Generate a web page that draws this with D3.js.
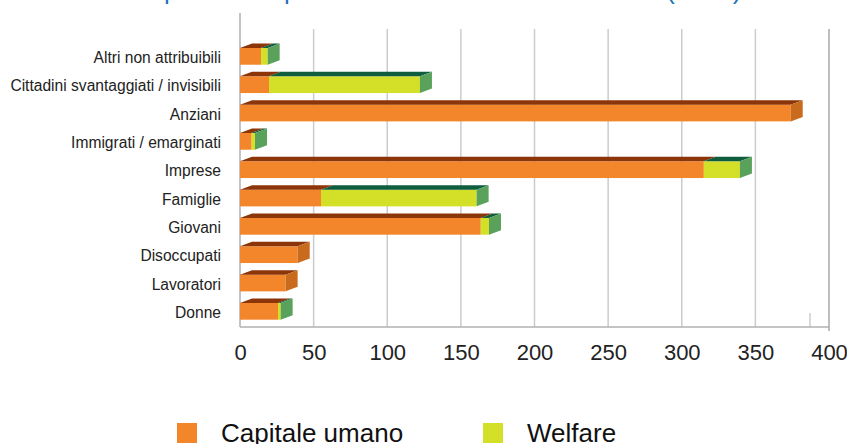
<!DOCTYPE html>
<html><head><meta charset="utf-8">
<script src="https://cdn.jsdelivr.net/npm/d3@7"></script>
<style>html,body{margin:0;padding:0;background:#fff;overflow:hidden}svg{display:block}</style>
</head><body>
<svg id="c" width="847" height="444"></svg>
<script>
const title = "Ripartizione per destinatari e ambito d'azione (2013)";
const categories = ["Altri non attribuibili","Cittadini svantaggiati / invisibili","Anziani","Immigrati / emarginati","Imprese","Famiglie","Giovani","Disoccupati","Lavoratori","Donne"];
const capitaleUmano = [14.3, 19.7, 374, 7.9, 315, 55, 163.5, 39.2, 31, 25.8];
const welfare = [4.5, 102.5, 0, 2.3, 24.5, 105.7, 5.6, 0, 0, 1.8];
const tickValues = [0,50,100,150,200,250,300,350,400];
const seriesNames = ["Capitale umano","Welfare"];

const font = "'Liberation Sans', Arial, Helvetica, sans-serif";
const svg = d3.select("#c");
const x = d3.scaleLinear().domain([0,400]).range([240,829]);
const y = d3.scaleBand().domain(categories).range([42.2,325.5]).paddingInner(0.41).paddingOuter(0.205);
const axisY = 327, gridTop = 29;
const dx = 12, dy = 4.5;

const col = {orange:"#f3852a", orangeTop:"#8c3508", orangeSide:"#c96b1c",
             yellow:"#d4df27", greenTop:"#0d5d3e", greenSide:"#5aa15c"};

// title (mostly above the visible area)
svg.append("text").attr("x",139.5).attr("y",-1).attr("font-family",font).attr("font-size",26)
  .attr("fill","#1f72b8").text(title);

// gridlines
svg.append("g").selectAll("line").data(tickValues.slice(1)).join("line")
  .attr("x1",d=>x(d)).attr("x2",d=>x(d)).attr("y1",gridTop).attr("y2",axisY)
  .attr("stroke",d=>d===400?"#a8a8a8":"#cccccc").attr("stroke-width",1.5);
// back-wall tick
svg.append("line").attr("x1",810).attr("x2",810).attr("y1",313).attr("y2",axisY)
  .attr("stroke","#cccccc").attr("stroke-width",1.5);
// axes lines
svg.append("line").attr("x1",x(0)).attr("x2",x(0)).attr("y1",13).attr("y2",axisY)
  .attr("stroke","#b0b0b0").attr("stroke-width",1.5);
svg.append("line").attr("x1",x(0)).attr("x2",x(400)).attr("y1",axisY).attr("y2",axisY)
  .attr("stroke","#b0b0b0").attr("stroke-width",1.5);
svg.append("line").attr("x1",x(400)).attr("x2",x(400)).attr("y1",axisY).attr("y2",331)
  .attr("stroke","#a8a8a8").attr("stroke-width",1.5);

// x tick labels via axis
const xAxis = svg.append("g").attr("transform",`translate(0,${axisY})`)
  .call(d3.axisBottom(x).tickValues(tickValues).tickSize(0).tickPadding(0).tickFormat(d3.format("d")));
xAxis.select(".domain").remove();
xAxis.selectAll("text").attr("font-family",font).attr("font-size",22).attr("fill","#222")
  .attr("dy",null).attr("y",33);

// category labels
svg.append("g").selectAll("text").data(categories).join("text")
  .attr("x",221).attr("y",d=>y(d)+y.bandwidth()/2+6.8).attr("text-anchor","end")
  .attr("font-family",font).attr("font-size",15.6).attr("fill","#222").text(d=>d);

// bars
const h = y.bandwidth();
const rows = categories.map((c,i)=>({c, a:capitaleUmano[i], w:welfare[i]}));
const g = svg.append("g");
rows.forEach(r=>{
  const yy = y(r.c);
  const x0 = x(0), x1 = x(r.a), x2 = x(r.a + r.w);
  const top = (a,b)=>`${a},${yy} ${a+dx},${yy-dy} ${b+dx},${yy-dy} ${b},${yy}`;
  g.append("rect").attr("x",x0).attr("y",yy).attr("width",x1-x0).attr("height",h).attr("fill",col.orange);
  g.append("polygon").attr("points",top(x0,x1)).attr("fill",col.orangeTop);
  if (r.w>0){
    g.append("rect").attr("x",x1).attr("y",yy).attr("width",x2-x1).attr("height",h).attr("fill",col.yellow);
    g.append("polygon").attr("points",top(x1,x2)).attr("fill",col.greenTop);
  }
  const xe = r.w>0 ? x2 : x1;
  g.append("polygon").attr("points",`${xe},${yy} ${xe+dx},${yy-dy} ${xe+dx},${yy+h-dy} ${xe},${yy+h}`)
    .attr("fill", r.w>0 ? col.greenSide : col.orangeSide);
});

// legend
const leg = svg.append("g");
const legX = [177, 483], legColors=[col.orange, col.yellow];
seriesNames.forEach((n,i)=>{
  leg.append("rect").attr("x",legX[i]).attr("y",423).attr("width",20).attr("height",20).attr("fill",legColors[i]);
  leg.append("text").attr("x",legX[i]+44).attr("y",441.5).attr("font-family",font).attr("font-size",26)
    .attr("fill","#111").text(n);
});
</script>
</body></html>
